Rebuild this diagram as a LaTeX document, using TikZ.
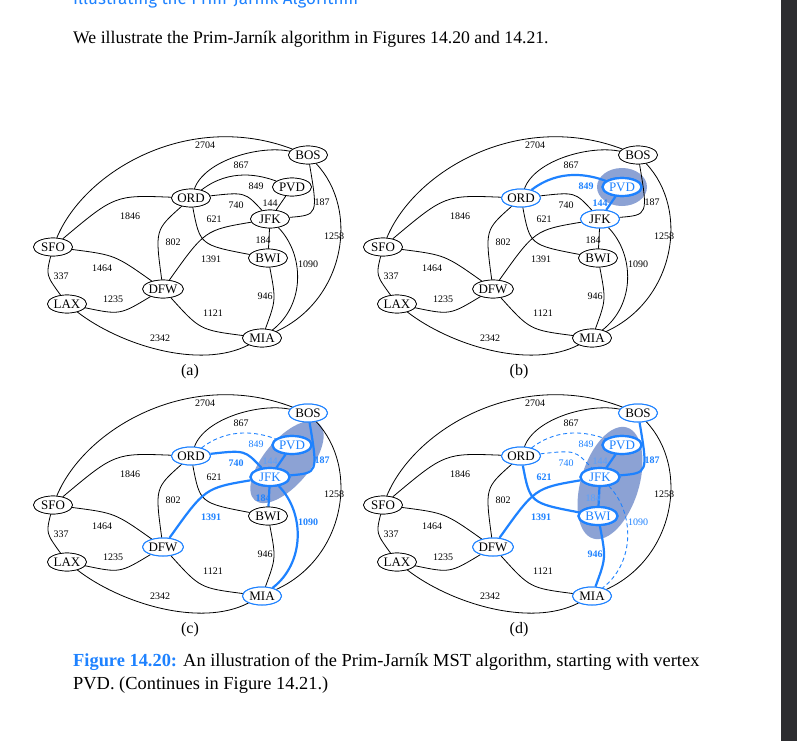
\documentclass[tikz,border=0pt]{standalone}
\usepackage{fontspec}
\setmainfont{Liberation Serif}
\newfontfamily\titlefont{Fira Sans}
\usetikzlibrary{shapes.geometric}
\definecolor{pblue}{RGB}{30,130,255}
\definecolor{cloudcol}{RGB}{140,162,212}
\definecolor{strip}{RGB}{45,45,48}
\tikzset{
  city/.style={ellipse,draw,line width=0.7pt,inner sep=0pt,minimum width=39pt,minimum height=18pt,font=\fontsize{13}{13}\selectfont,fill=white},
  wt/.style={font=\fontsize{10}{10}\selectfont,inner sep=0.5pt},
  edge/.style={line width=0.8pt},
  tree/.style={draw=pblue,line width=2.2pt},
  cand/.style={draw=pblue,line width=2.2pt},
  dashedge/.style={draw=pblue,line width=0.9pt,dash pattern=on 4pt off 3pt},
  ltree/.style={text=pblue!75},
  lcand/.style={text=pblue,font=\bfseries\fontsize{10}{10}\selectfont},
  ldash/.style={text=pblue},
  nin/.style={draw=pblue,line width=2.2pt,text=pblue},
  nfr/.style={draw=pblue,line width=1pt},
  e2704/.style={},e337/.style={},e1846/.style={},e1464/.style={},e1235/.style={},e2342/.style={},e867/.style={},e849/.style={},e740/.style={},e621/.style={},e802/.style={},e144/.style={},e187/.style={},e1258/.style={},e184/.style={},e1391/.style={},e1090/.style={},e946/.style={},e1121/.style={},
  l2704/.style={},l337/.style={},l1846/.style={},l1464/.style={},l1235/.style={},l2342/.style={},l867/.style={},l849/.style={},l740/.style={},l621/.style={},l802/.style={},l144/.style={},l187/.style={},l1258/.style={},l184/.style={},l1391/.style={},l1090/.style={},l946/.style={},l1121/.style={},
  nSFO/.style={},nLAX/.style={},nDFW/.style={},nORD/.style={},nPVD/.style={},nBOS/.style={},nJFK/.style={},nBWI/.style={},nMIA/.style={},
}
\newcommand\primpanel[4]{%
\begin{scope}[shift={(#1)},name prefix=#2-,#3]
#4
\node[city,nSFO] (SFO) at (53,247) {SFO};
\node[city,nLAX] (LAX) at (67,304) {LAX};
\node[city,nDFW] (DFW) at (163,289) {DFW};
\node[city,nORD] (ORD) at (191,198) {ORD};
\node[city,nPVD] (PVD) at (292,187) {PVD};
\node[city,nBOS] (BOS) at (308,155) {BOS};
\node[city,nJFK] (JFK) at (270,219) {JFK};
\node[city,nBWI] (BWI) at (268,258) {BWI};
\node[city,nMIA] (MIA) at (262,338) {MIA};
\draw[edge,e2704] (SFO) .. controls (85,170) and (190,110) .. (BOS);
\draw[edge,e337] (SFO) .. controls (46,275) .. (LAX);
\draw[edge,e1846] (SFO) .. controls (115,195) .. (ORD);
\draw[edge,e1464] (SFO) .. controls (115,255) .. (DFW);
\draw[edge,e1235] (LAX) .. controls (120,315) .. (DFW);
\draw[edge,e2342] (LAX) .. controls (120,345) and (200,370) .. (MIA);
\draw[edge,e867] (ORD) .. controls (205,160) and (260,145) .. (BOS);
\draw[edge,e849] (ORD) .. controls (230,168) and (260,175) .. (PVD);
\draw[edge,e740] (ORD) .. controls (245,192) .. (JFK);
\draw[edge,e621] (ORD) .. controls (200,245) .. (BWI);
\draw[edge,e802] (ORD) .. controls (155,230) .. (DFW);
\draw[edge,e144] (PVD) -- (JFK);
\draw[edge,e187] (BOS) .. controls (318,215) .. (JFK);
\draw[edge,e1258] (BOS) .. controls (360,210) and (345,300) .. (MIA);
\draw[edge,e184] (JFK) -- (BWI);
\draw[edge,e1391] (JFK) .. controls (205,230) .. (DFW);
\draw[edge,e1090] (JFK) .. controls (305,255) and (305,305) .. (MIA);
\draw[edge,e946] (BWI) .. controls (276,300) .. (MIA);
\draw[edge,e1121] (DFW) .. controls (200,330) .. (MIA);
\node[city,nSFO] at (SFO) {SFO};
\node[city,nLAX] at (LAX) {LAX};
\node[city,nDFW] at (DFW) {DFW};
\node[city,nORD] at (ORD) {ORD};
\node[city,nPVD] at (PVD) {PVD};
\node[city,nBOS] at (BOS) {BOS};
\node[city,nJFK] at (JFK) {JFK};
\node[city,nBWI] at (BWI) {BWI};
\node[city,nMIA] at (MIA) {MIA};
\node[wt,l2704] (w2704) at (205,145) {2704};
\node[wt,l867] (w867) at (241,165) {867};
\node[wt,l849] (w849) at (256,186) {849};
\node[wt,l144] (w144) at (270,203) {144};
\node[wt,l187] (w187) at (322,202) {187};
\node[wt,l740] (w740) at (236,205) {740};
\node[wt,l621] (w621) at (214,219) {621};
\node[wt,l1846] (w1846) at (130,216) {1846};
\node[wt,l802] (w802) at (173,242) {802};
\node[wt,l184] (w184) at (263,240) {184};
\node[wt,l1258] (w1258) at (334,236) {1258};
\node[wt,l1391] (w1391) at (211,259) {1391};
\node[wt,l1090] (w1090) at (308,264) {1090};
\node[wt,l1464] (w1464) at (102,268) {1464};
\node[wt,l337] (w337) at (61,276) {337};
\node[wt,l1235] (w1235) at (113,299) {1235};
\node[wt,l946] (w946) at (265,296) {946};
\node[wt,l1121] (w1121) at (213,313) {1121};
\node[wt,l2342] (w2342) at (160,338) {2342};
\end{scope}}
\begin{document}
\begin{tikzpicture}[x=1pt,y=-1pt]
\useasboundingbox (0,0) rectangle (797,741);
\fill[white] (0,0) rectangle (797,741);
\fill[strip] (781,0) rectangle (797,741);
\node[anchor=base west,inner sep=0,text=pblue,font=\titlefont\fontsize{17}{17}\selectfont] (title) at (73,5) {Illustrating the Prim-Jarník Algorithm};
\node[anchor=base west,inner sep=0,font=\fontsize{17.7}{20}\selectfont] (intro) at (73,44) {We illustrate the Prim-Jarník algorithm in Figures 14.20 and 14.21.};
% (a)
\primpanel{0,0}{a}{}{}
% (b)
\primpanel{330,0}{b}{nPVD/.style=nin,nORD/.style=nfr,nJFK/.style=nfr,
  e849/.style=tree,l849/.style=lcand,e144/.style=tree,l144/.style=lcand}
{\fill[cloudcol] (292,187) ellipse (25pt and 19pt);}
% (c)
\primpanel{0,258}{c}{nPVD/.style=nin,nJFK/.style=nin,nORD/.style=nfr,nBOS/.style=nfr,nDFW/.style=nfr,nMIA/.style=nfr,
  e144/.style=tree,l144/.style=ltree,e187/.style=tree,l187/.style=lcand,
  e849/.style=dashedge,l849/.style=ldash,e740/.style=cand,l740/.style=lcand,
  e184/.style=cand,l184/.style=lcand,e1391/.style=cand,l1391/.style=lcand,
  e1090/.style=cand,l1090/.style=lcand}
{\fill[cloudcol,rotate around={50:(287,204)}] (287,204) ellipse (50pt and 23pt);}
% (d)
\primpanel{330,258}{d}{nPVD/.style=nin,nJFK/.style=nin,nBWI/.style=nin,nORD/.style=nfr,nBOS/.style=nfr,nDFW/.style=nfr,nMIA/.style=nfr,
  e144/.style=tree,l144/.style=ltree,e187/.style=tree,l187/.style=lcand,
  e184/.style=tree,l184/.style=ltree,
  e849/.style=dashedge,l849/.style=ldash,e740/.style=dashedge,l740/.style=ldash,
  e1090/.style=dashedge,l1090/.style=ldash,
  e621/.style=cand,l621/.style=lcand,e1391/.style=cand,l1391/.style=lcand,
  e946/.style=cand,l946/.style=lcand}
{\fill[cloudcol,rotate around={73:(280,225)}] (280,225) ellipse (58pt and 29pt);}
\node[font=\fontsize{16}{16}\selectfont] (capa) at (190,372) {(a)};
\node[font=\fontsize{16}{16}\selectfont] (capb) at (519,372) {(b)};
\node[font=\fontsize{16}{16}\selectfont] (capc) at (190,630) {(c)};
\node[font=\fontsize{16}{16}\selectfont] (capd) at (519,630) {(d)};
\node[anchor=base west,inner sep=0,align=left,font=\fontsize{18.4}{23}\selectfont] (caption) at (73,689)
  {\textcolor{pblue}{\bfseries Figure 14.20:} An illustration of the Prim-Jarník MST algorithm, starting with vertex\\PVD. (Continues in Figure 14.21.)};
\end{tikzpicture}
\end{document}
